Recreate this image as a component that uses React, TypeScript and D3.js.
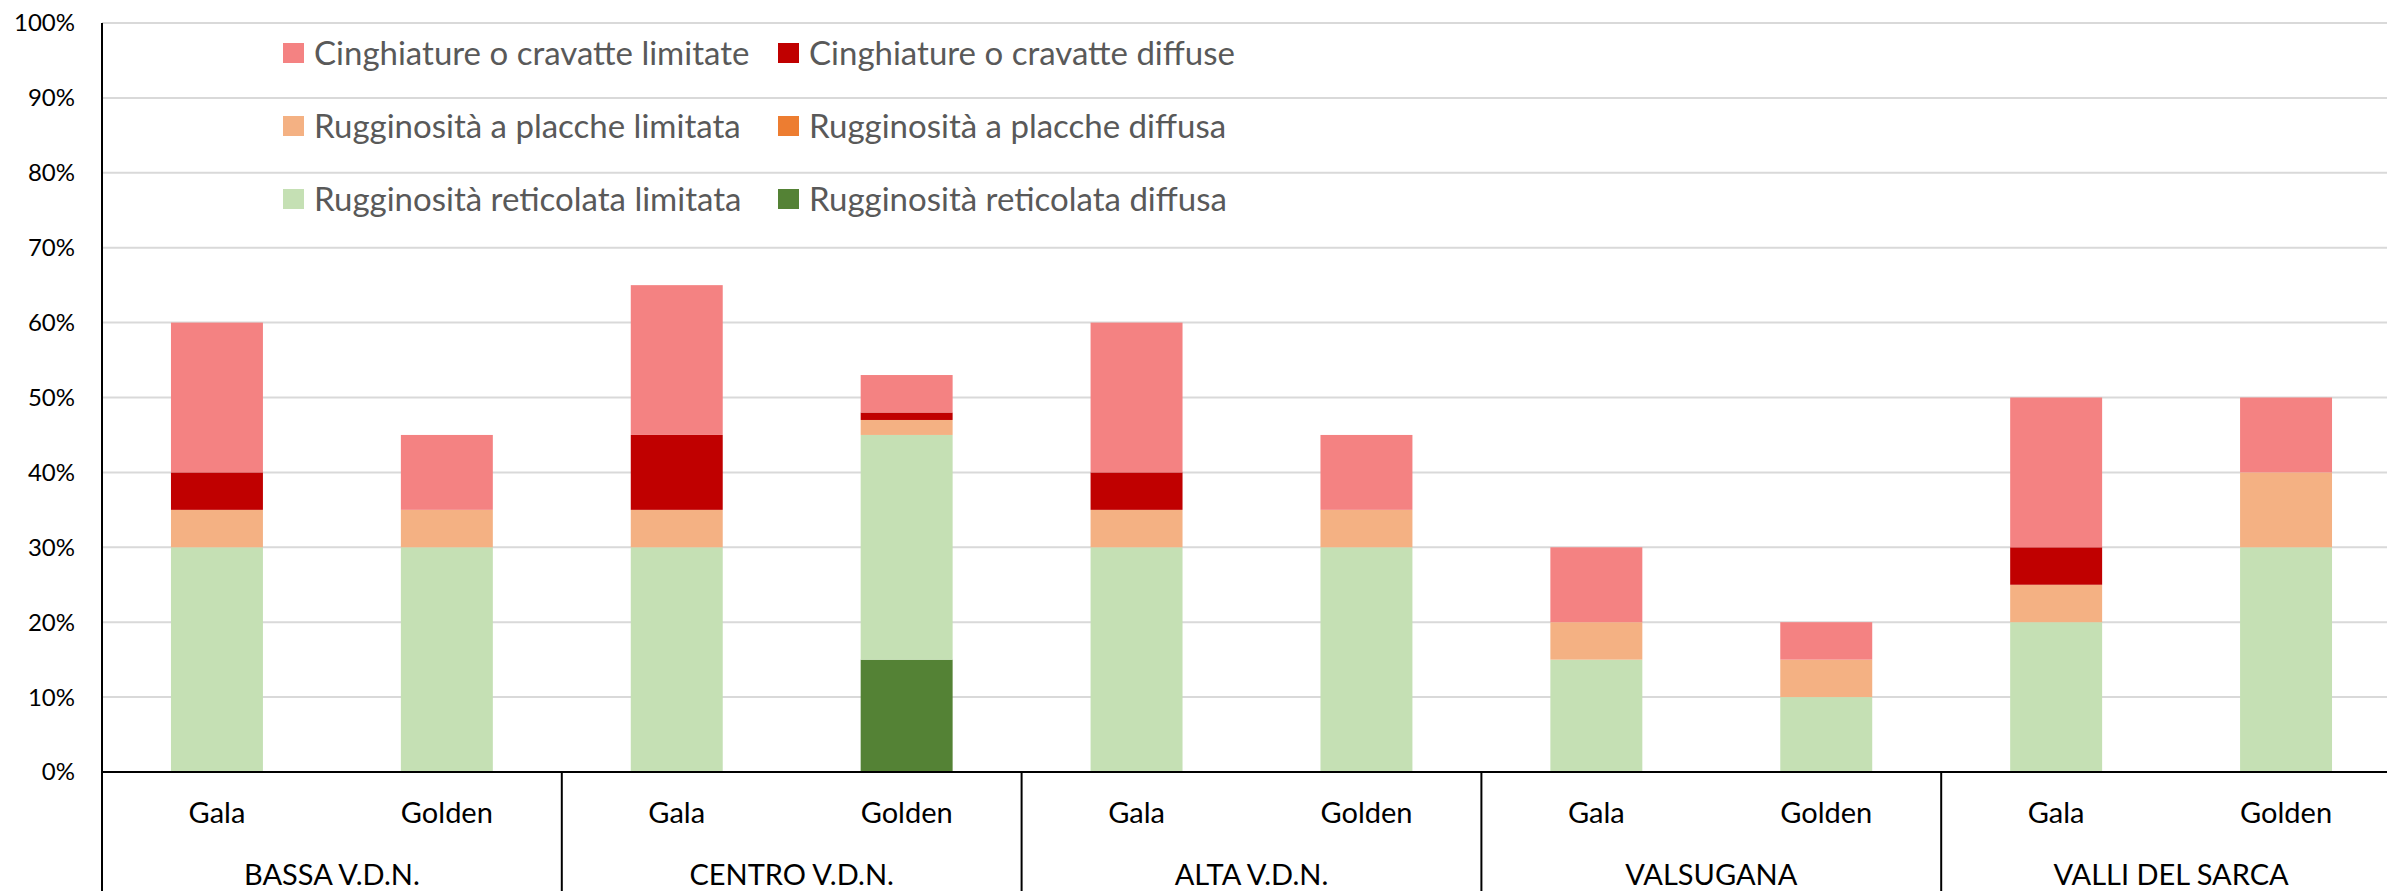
import { useEffect, useRef } from 'react';
import * as d3 from 'd3';

const W = 2387;
const H = 891;

// regions and varieties (two-level category axis)
const regions = ['BASSA V.D.N.', 'CENTRO V.D.N.', 'ALTA V.D.N.', 'VALSUGANA', 'VALLI DEL SARCA'];
const varieties = ['Gala', 'Golden'];

// series, listed bottom -> top of the stack
const seriesNames = [
    'Rugginosità reticolata diffusa',
    'Rugginosità reticolata limitata',
    'Rugginosità a placche diffusa',
    'Rugginosità a placche limitata',
    'Cinghiature o cravatte diffuse',
    'Cinghiature o cravatte limitate',
];
const seriesColors = ['#548235', '#C5E0B4', '#ED7D31', '#F4B183', '#C00000', '#F48282'];

// values in %, one per bar (region x variety, in order)
const reticolataDiffusa = [0, 0, 0, 15, 0, 0, 0, 0, 0, 0];
const reticolataLimitata = [30, 30, 30, 30, 30, 30, 15, 10, 20, 30];
const placcheDiffusa = [0, 0, 0, 0, 0, 0, 0, 0, 0, 0];
const placcheLimitata = [5, 5, 5, 2, 5, 5, 5, 5, 5, 10];
const cinghiatureDiffuse = [5, 0, 10, 1, 5, 0, 0, 0, 5, 0];
const cinghiatureLimitate = [20, 10, 20, 5, 20, 10, 10, 5, 20, 10];

const yTicks = [0, 10, 20, 30, 40, 50, 60, 70, 80, 90, 100];

// legend order as displayed (row by row)
const legendOrder = [5, 4, 3, 2, 1, 0];

const FONT = 'Lato, "Open Sans", "Liberation Sans", sans-serif';

export default function App() {
    const svgRef = useRef<SVGSVGElement>(null);

    useEffect(() => {
        document.body.style.margin = '0';
        const svg = d3.select(svgRef.current);
        svg.selectAll('*').remove();

        const left = 102;
        const right = 2401;
        const top = 23;
        const bottom = 772;

        const values = [reticolataDiffusa, reticolataLimitata, placcheDiffusa, placcheLimitata, cinghiatureDiffuse, cinghiatureLimitate];
        const keys: string[] = [];
        regions.forEach(r => varieties.forEach(v => keys.push(`${r}|${v}`)));
        const rows = keys.map((k, i) => {
            const row: any = { key: k };
            seriesNames.forEach((s, j) => { row[s] = values[j][i]; });
            return row;
        });

        const x = d3.scaleBand().domain(keys).range([left, right]).paddingInner(0.6).paddingOuter(0.3);
        const xg = d3.scaleBand().domain(regions).range([left, right]);
        const y = d3.scaleLinear().domain([0, 100]).range([bottom, top]);

        // gridlines
        svg.append('g').selectAll('line').data(yTicks.filter(t => t > 0)).join('line')
            .attr('x1', left).attr('x2', right)
            .attr('y1', d => y(d)).attr('y2', d => y(d))
            .attr('stroke', '#d9d9d9').attr('stroke-width', 2);

        // y tick labels
        svg.append('g').selectAll('text').data(yTicks).join('text')
            .attr('x', 75).attr('y', d => y(d))
            .attr('dy', '0.35em')
            .attr('text-anchor', 'end')
            .style('font-family', FONT).style('font-size', '24px').style('fill', '#000')
            .text(d => `${d}%`);

        // stacked bars
        const stack = d3.stack().keys(seriesNames)(rows);
        stack.forEach((layer, j) => {
            svg.append('g').attr('fill', seriesColors[j])
                .selectAll('rect').data(layer).join('rect')
                .attr('x', d => x((d.data as any).key)!)
                .attr('width', x.bandwidth())
                .attr('y', d => y(d[1]))
                .attr('height', d => y(d[0]) - y(d[1]));
        });

        // axes lines
        svg.append('line').attr('x1', left).attr('x2', left).attr('y1', top).attr('y2', H)
            .attr('stroke', '#000').attr('stroke-width', 2);
        svg.append('line').attr('x1', left).attr('x2', right).attr('y1', bottom).attr('y2', bottom)
            .attr('stroke', '#000').attr('stroke-width', 2);
        svg.append('g').selectAll('line').data(regions.slice(1)).join('line')
            .attr('x1', d => xg(d)!).attr('x2', d => xg(d)!)
            .attr('y1', bottom).attr('y2', H)
            .attr('stroke', '#000').attr('stroke-width', 2);

        // variety labels
        svg.append('g').selectAll('text').data(keys).join('text')
            .attr('x', d => x(d)! + x.bandwidth() / 2)
            .attr('y', 813).attr('dy', '0.35em')
            .attr('text-anchor', 'middle')
            .style('font-family', FONT).style('font-size', '29px').style('fill', '#000')
            .text(d => d.split('|')[1]);

        // region labels
        svg.append('g').selectAll('text').data(regions).join('text')
            .attr('x', d => xg(d)! + xg.bandwidth() / 2)
            .attr('y', 875).attr('dy', '0.35em')
            .attr('text-anchor', 'middle')
            .style('font-family', FONT).style('font-size', '29px').style('fill', '#000')
            .text(d => d);

        // legend: 3 rows x 2 columns
        const legend = svg.append('g');
        const colX = [283, 778];
        const rowY = [53, 126, 199];
        legendOrder.forEach((si, i) => {
            const cx = colX[i % 2];
            const cy = rowY[Math.floor(i / 2)];
            legend.append('rect')
                .attr('x', cx).attr('y', cy - 10).attr('width', 21).attr('height', 20)
                .attr('fill', seriesColors[si]);
            legend.append('text')
                .attr('x', cx + 31).attr('y', cy).attr('dy', '0.35em')
                .style('font-family', FONT).style('font-size', '33px').style('fill', '#595959')
                .text(seriesNames[si]);
        });
    }, []);

    return (
        <svg ref={svgRef} width={W} height={H}
            style={{ display: 'block', position: 'absolute', left: 0, top: 0, background: '#fff' }} />
    );
}
